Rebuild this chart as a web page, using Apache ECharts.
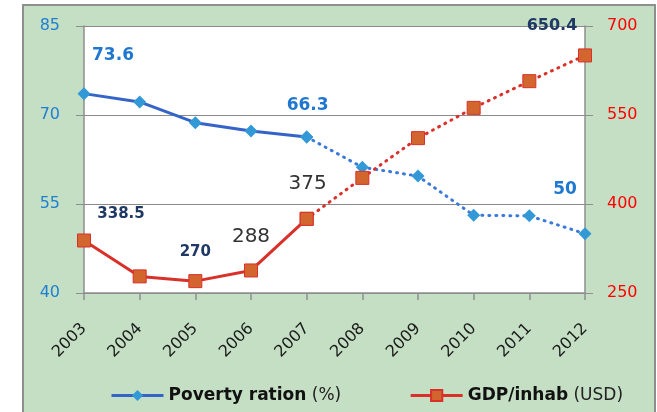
<!DOCTYPE html>
<html><head><meta charset="utf-8">
<script src="https://cdn.jsdelivr.net/npm/echarts@6/dist/echarts.min.js"></script>
<style>html,body{margin:0;padding:0;background:#fff}#c{width:657px;height:412px}</style>
</head><body><div id="c"></div>
<script>
const years = ['2003','2004','2005','2006','2007','2008','2009','2010','2011','2012'];
const poverty = [73.6, 72.2, 68.7, 67.3, 66.3, 61.2, 59.7, 53.1, 53.0, 50.0];
const gdp = [338.5, 278, 270, 288, 375, 444, 511, 562, 607, 650.4];
const leftTicks = [40, 55, 70, 85];
const rightTicks = [250, 400, 550, 700];
const solidEnd = 4; // index of last solid (actual) point

const FONT = 'DejaVu Sans';
function split(arr, solid) {
  return arr.map((v, i) => solid ? (i <= solidEnd ? v : null) : (i >= solidEnd ? v : null));
}
// label annotations: index -> [offsetX, offsetY, color, weight, size]
const povLabels = {0: [29, -38, '#1f77d0', 'bold', 17], 4: [1, -31, '#1f77d0', 'bold', 17], 9: [-20, -44, '#1f77d0', 'bold', 17]};
const gdpLabels = {0: [37, -26, '#1f3864', 'bold', 15], 2: [0, -29, '#1f3864', 'bold', 15], 3: [0, -34, '#333333', 'normal', 20], 4: [1, -35, '#333333', 'normal', 20], 9: [-33, -30, '#1f3864', 'bold', 16]};
function withLabels(arr, labels) {
  return arr.map((v, i) => {
    if (v === null) return null;
    const L = labels[i];
    if (!L) return v;
    return {value: v, label: {show: true, position: 'inside', offset: [L[0], L[1]], color: L[2], fontWeight: L[3], fontSize: L[4], fontFamily: FONT, formatter: String(v)}};
  });
}
const povSolid = withLabels(split(poverty, true), povLabels);
const povDot = withLabels(split(poverty, false), {9: povLabels[9]});
const gdpSolid = withLabels(split(gdp, true), gdpLabels);
const gdpDot = withLabels(split(gdp, false), {9: gdpLabels[9]});

const chart = echarts.init(document.getElementById('c'), null, {renderer: 'canvas'});
const povMarker = {color: '#3399d6', borderWidth: 0};
const gdpMarker = {color: '#d3652f', borderColor: '#d9302a', borderWidth: 1};
chart.setOption({
  animation: false,
  backgroundColor: 'transparent',
  graphic: [{type: 'rect', z: -10, shape: {x: 23, y: 5, width: 632, height: 420}, style: {fill: '#c4dfc4', stroke: '#8e8e8e', lineWidth: 2}}],
  grid: {left: 84, right: 72, top: 26, bottom: 119, show: true, backgroundColor: '#ffffff', borderWidth: 0},
  legend: {
    bottom: 3, left: 105, itemGap: 68, itemWidth: 52, itemHeight: 14,
    lineStyle: {width: 3},
    formatter: function (n) { return n === 'Poverty ration' ? '{b|Poverty ration} {n|(%)}' : '{b|GDP/inhab} {n|(USD)}'; },
    data: ['Poverty ration', 'GDP/inhab'],
    textStyle: {fontFamily: FONT, fontSize: 17, color: '#111', rich: {b: {fontWeight: 'bold', fontSize: 17, fontFamily: FONT, color: '#111'}, n: {fontSize: 17, fontFamily: FONT, color: '#222'}}}
  },
  xAxis: {
    type: 'category', data: years, boundaryGap: false,
    axisLine: {lineStyle: {color: '#8e8e8e', width: 1.5}},
    axisTick: {show: true, alignWithLabel: true, length: 7, lineStyle: {color: '#8e8e8e', width: 1.5}},
    axisLabel: {rotate: 45, margin: 33, fontFamily: FONT, fontSize: 16, color: '#1a1a1a', interval: 0},
    splitLine: {show: false}
  },
  yAxis: [{
    type: 'value', min: 40, max: 85, interval: 15, position: 'left',
    axisLine: {show: true, lineStyle: {color: '#8e8e8e', width: 1.5}},
    axisTick: {show: true, length: 8, lineStyle: {color: '#8e8e8e'}},
    axisLabel: {margin: 24, fontFamily: FONT, fontSize: 16, color: '#1f7fd0', customValues: leftTicks},
    splitLine: {show: true, lineStyle: {color: '#8a8a8a', width: 1}}
  }, {
    type: 'value', min: 250, max: 700, interval: 150, position: 'right',
    axisLine: {show: true, lineStyle: {color: '#8e8e8e', width: 1.5}},
    axisTick: {show: true, length: 8, lineStyle: {color: '#8e8e8e'}},
    axisLabel: {margin: 22, fontFamily: FONT, fontSize: 16, color: '#ff0000', customValues: rightTicks},
    splitLine: {show: false}
  }],
  series: [
    {name: 'Poverty ration', type: 'line', yAxisIndex: 0, data: povSolid, symbol: 'diamond', symbolSize: 13,
     lineStyle: {color: '#3464c8', width: 3}, itemStyle: povMarker, z: 2},
    {name: 'Poverty ration', type: 'line', yAxisIndex: 0, data: povDot, symbol: 'diamond', symbolSize: 13,
     lineStyle: {color: '#3a7ad8', width: 3, type: [1, 6], cap: 'round'}, itemStyle: povMarker, z: 2},
    {name: 'GDP/inhab', type: 'line', yAxisIndex: 1, data: gdpSolid, symbol: 'rect', symbolSize: 13,
     lineStyle: {color: '#d9302a', width: 3}, itemStyle: gdpMarker, z: 3},
    {name: 'GDP/inhab', type: 'line', yAxisIndex: 1, data: gdpDot, symbol: 'rect', symbolSize: 13,
     lineStyle: {color: '#d9302a', width: 3, type: [1, 6], cap: 'round'}, itemStyle: gdpMarker, z: 3}
  ]
});
</script></body></html>
